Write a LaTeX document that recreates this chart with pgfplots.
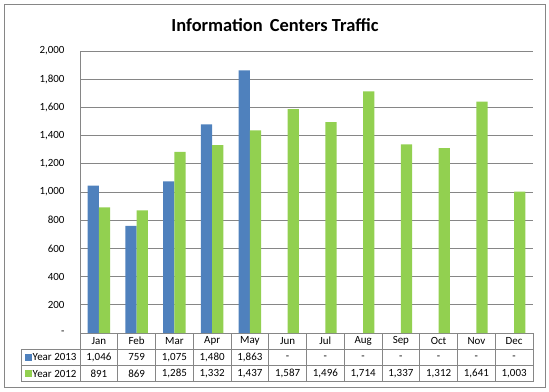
\documentclass[border=0pt]{standalone}
\usepackage{pgfplots}
\pgfplotsset{compat=1.18}
\usepackage{fontspec}
\setmainfont{Carlito}
\definecolor{blu}{HTML}{4F81BD}
\definecolor{grn}{HTML}{92D050}
\definecolor{gridc}{HTML}{868686}
\begin{document}
\begin{tikzpicture}[x=1bp,y=1bp]
\path[use as bounding box] (0,0) rectangle (549,391);
\draw[gridc, line width=0.8bp] (4,4) rectangle (545,387);
\node[font=\bfseries\fontsize{18.5}{21}\selectfont] at (275,366) {Information\, Centers Traffic};
\begin{axis}[at={(80bp,58bp)}, anchor=south west, scale only axis,
  width=453bp, height=282bp,
  xmin=-0.5, xmax=11.5, ymin=0, ymax=2000,
  ybar=0pt, bar width=11.2bp,
  axis lines*=left, axis line style={gridc, line width=0.8bp},
  xtick=\empty,
  ytick={0,200,...,2000},
  yticklabels={-,200,400,600,800,{1,000},{1,200},{1,400},{1,600},{1,800},{2,000}},
  ymajorgrids, grid style={gridc, line width=0.8bp},
  major tick length=0pt,
  yticklabel style={font=\fontsize{11}{13}\selectfont, xshift=-12bp},
  clip=false]
\addplot[fill=blu, draw=none] coordinates {(0,1046) (1,759) (2,1075) (3,1480) (4,1863)};
\addplot[fill=grn, draw=none] coordinates {(0,891) (1,869) (2,1285) (3,1332) (4,1437) (5,1587) (6,1496) (7,1714) (8,1337) (9,1312) (10,1641) (11,1003)};
\end{axis}
% data table
\begin{scope}[gridc, line width=0.8bp]
\draw (21.7,42) -- (533,42);
\draw (21.7,25.3) -- (533,25.3);
\draw (21.7,9.3) -- (533,9.3);
\draw (21.7,9.3) -- (21.7,42);
\foreach \k in {0,...,12} \draw ({80+\k*37.75},9.3) -- ({80+\k*37.75},58);
\end{scope}
\begin{scope}[font=\fontsize{11}{13}\selectfont]
\foreach \m [count=\i from 0] in {Jan,Feb,Mar,Apr,May,Jun,Jul,Aug,Sep,Oct,Nov,Dec}
  \node at ({98.875+\i*37.75},50) {\m};
\foreach \v [count=\i from 0] in {{1,046},759,{1,075},{1,480},{1,863},-,-,-,-,-,-,-}
  \node at ({98.875+\i*37.75},33.6) {\v};
\foreach \v [count=\i from 0] in {891,869,{1,285},{1,332},{1,437},{1,587},{1,496},{1,714},{1,337},{1,312},{1,641},{1,003}}
  \node at ({98.875+\i*37.75},17.3) {\v};
\fill[blu] (25,30.4) rectangle (31.5,36.9);
\fill[grn] (25,14.1) rectangle (31.5,20.6);
\node[anchor=west, inner sep=0pt] at (32.5,33.6) {Year 2013};
\node[anchor=west, inner sep=0pt] at (32.5,17.3) {Year 2012};
\end{scope}
\end{tikzpicture}
\end{document}
